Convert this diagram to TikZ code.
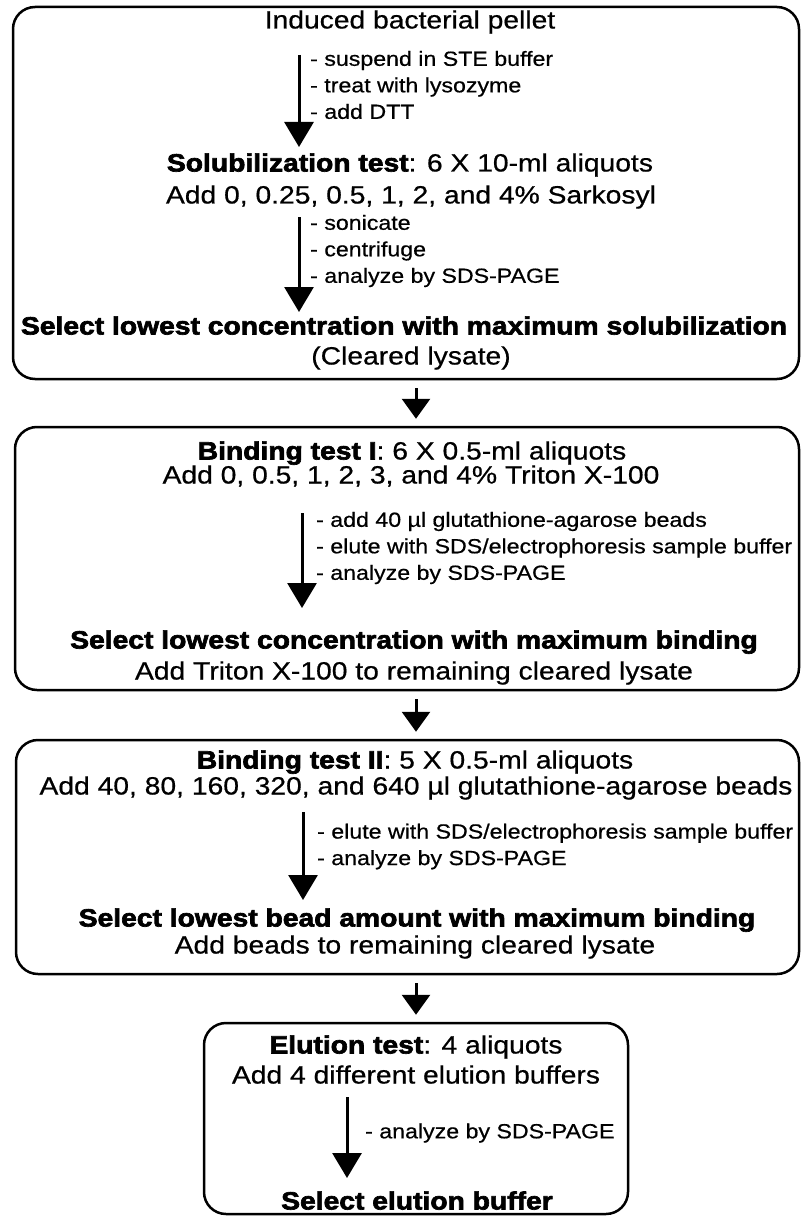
\documentclass[tikz,border=0pt]{standalone}
\usepackage{fontspec}
\setmainfont{Liberation Sans}[FakeStretch=1.13, FakeBold=0.6, BoldFeatures={FakeBold=2.6}]
\usepackage{tikz}
\usetikzlibrary{arrows.meta}
\tikzset{
  box/.style={draw=black, line width=2.5pt, rounded corners=22pt, inner sep=0pt},
  main/.style={font=\fontsize{25}{30}\selectfont, inner sep=0pt, text height=18pt, text depth=5pt},
  side/.style={font=\fontsize{20.5}{26.5}\selectfont, inner sep=0pt, align=left, anchor=west},
  flow/.style={line width=3pt, -{Triangle[width=29pt,length=25pt]}},
  link/.style={line width=3pt, -{Triangle[width=28pt,length=20pt]}, shorten <=8pt, shorten >=7pt}
}

\begin{document}
\begin{tikzpicture}[x=1pt, y=-1pt]
  \useasboundingbox (0,0) rectangle (801,1217);

  % the four test boxes
  \node[box, minimum width=786pt, minimum height=372pt] (sol)  at (406,193) {};
  \node[box, minimum width=784pt, minimum height=263pt] (bind) at (407,558.5) {};
  \node[box, minimum width=783pt, minimum height=234pt] (bead) at (407.5,857) {};
  \node[box, minimum width=424pt, minimum height=191pt] (elu)  at (416,1118.5) {};

  % solubilization
  \node[main] (pellet) at (410,22) {Induced bacterial pellet};
  \node[side] (prep) at (310,85) {- suspend in STE buffer\\- treat with lysozyme\\- add DTT};
  \node[main] (soltest) at (410,165) {\textbf{Solubilization test}: 6 X 10-ml aliquots};
  \node[main] (sarko) at (411,197) {Add 0, 0.25, 0.5, 1, 2, and 4\% Sarkosyl};
  \node[side] (spin) at (310,251) {- sonicate\\- centrifuge\\- analyze by SDS-PAGE};
  \node[main] (solsel) at (404,328) {\textbf{Select lowest concentration with maximum solubilization}};
  \node[main] (cleared) at (411,358) {(Cleared lysate)};

  % binding test I
  \node[main] (bindtest) at (412,453) {\textbf{Binding test I}: 6 X 0.5-ml aliquots};
  \node[main] (triton) at (411,477) {Add 0, 0.5, 1, 2, 3, and 4\% Triton X-100};
  \node[side] (wash) at (316,548) {- add 40 \textmu l glutathione-agarose beads\\- elute with SDS/electrophoresis sample buffer\\- analyze by SDS-PAGE};
  \node[main] (bindsel) at (414,642) {\textbf{Select lowest concentration with maximum binding}};
  \node[main] (addtrit) at (414,673) {Add Triton X-100 to remaining cleared lysate};

  % binding test II
  \node[main] (beadtest) at (415,762) {\textbf{Binding test II}: 5 X 0.5-ml aliquots};
  \node[main] (beadamt) at (416,788) {Add 40, 80, 160, 320, and 640 \textmu l glutathione-agarose beads};
  \node[side] (elute) at (317,846.5) {- elute with SDS/electrophoresis sample buffer\\- analyze by SDS-PAGE};
  \node[main] (beadsel) at (417,920) {\textbf{Select lowest bead amount with maximum binding}};
  \node[main] (addbead) at (415,947) {Add beads to remaining cleared lysate};

  % elution test
  \node[main] (elutest) at (416,1047) {\textbf{Elution test}: 4 aliquots};
  \node[main] (buffers) at (416,1077) {Add 4 different elution buffers};
  \node[side] (gel) at (365,1133) {- analyze by SDS-PAGE};
  \node[main] (elusel) at (417,1203) {\textbf{Select elution buffer}};

  % arrows inside the boxes
  \coordinate (s1a) at (299,55);   \coordinate (s1b) at (299,147);
  \coordinate (s2a) at (299,217);  \coordinate (s2b) at (299,312);
  \coordinate (b1a) at (302,513);  \coordinate (b1b) at (302,608);
  \coordinate (b2a) at (303,812);  \coordinate (b2b) at (303,900);
  \coordinate (e1a) at (347,1097); \coordinate (e1b) at (347,1178);
  \draw[flow] (s1a) -- (s1b);
  \draw[flow] (s2a) -- (s2b);
  \draw[flow] (b1a) -- (b1b);
  \draw[flow] (b2a) -- (b2b);
  \draw[flow] (e1a) -- (e1b);

  % arrows between the boxes
  \draw[link] (sol.south -| elu.north) -- (bind.north -| elu.north);
  \draw[link] (bind.south -| elu.north) -- (bead.north -| elu.north);
  \draw[link] (bead.south) ++(8.5,0) coordinate (bs) (bs) -- (elu.north);
\end{tikzpicture}
\end{document}
